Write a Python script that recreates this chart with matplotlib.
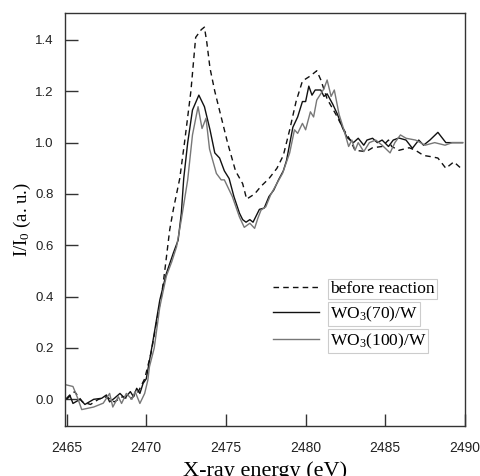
import matplotlib
matplotlib.use("Agg")
import matplotlib.pyplot as plt

plt.rcParams['mathtext.fontset'] = 'custom'
plt.rcParams['mathtext.rm'] = 'Liberation Serif'
plt.rcParams['mathtext.it'] = 'Liberation Serif:italic'

# before reaction (dashed)
before_x = [2465.0, 2465.5, 2466.0, 2466.5, 2467.0, 2467.5, 2468.0, 2468.5, 2469.0, 2469.5,
            2469.9, 2470.3, 2470.7, 2470.95, 2471.16, 2471.47, 2471.7, 2471.9, 2472.1, 2472.4,
            2472.8, 2473.1, 2473.45, 2473.65, 2473.8, 2474.0, 2474.3, 2474.7, 2475.1, 2475.6,
            2476.05, 2476.3, 2476.8, 2477.2, 2477.7, 2478.2, 2478.6, 2479.0, 2479.4, 2479.8,
            2480.3, 2480.7, 2480.95, 2481.35, 2481.9, 2482.4, 2482.8, 2483.1, 2483.8, 2484.2,
            2484.8, 2485.2, 2485.4, 2485.85, 2486.5, 2486.9, 2487.4, 2487.9, 2488.3, 2488.8,
            2489.3, 2489.75]
before_y = [0.0, 0.03, -0.01, -0.02, 0.0, 0.01, -0.01, 0.01, 0.0, 0.03,
            0.08, 0.18, 0.32, 0.40, 0.50, 0.66, 0.74, 0.80, 0.86, 1.0,
            1.20, 1.41, 1.44, 1.45, 1.39, 1.29, 1.20, 1.10, 1.0, 0.89,
            0.84, 0.78, 0.80, 0.83, 0.86, 0.90, 0.95, 1.05, 1.16, 1.24,
            1.26, 1.28, 1.245, 1.17, 1.11, 1.05, 1.01, 0.97, 0.965, 0.98,
            0.985, 1.01, 0.985, 0.97, 0.98, 0.97, 0.95, 0.945, 0.94, 0.90,
            0.925, 0.90]

# WO3(70)/W (black)
wo70_x = [2465.0, 2465.2, 2465.4, 2465.85, 2466.15, 2466.7, 2467.2, 2467.5, 2467.7, 2468.0,
          2468.35, 2468.65, 2469.0, 2469.2, 2469.4, 2469.6, 2469.8, 2470.0, 2470.4, 2470.85,
          2471.26, 2471.7, 2472.0, 2472.2, 2472.35, 2472.6, 2472.9, 2473.3, 2473.65, 2474.0,
          2474.3, 2474.6, 2474.9, 2475.2, 2475.5, 2475.85, 2476.05, 2476.26, 2476.5, 2476.7,
          2477.1, 2477.4, 2477.7, 2478.0, 2478.3, 2478.6, 2478.8, 2479.2, 2479.5, 2479.8,
          2480.0, 2480.2, 2480.4, 2480.6, 2480.95, 2481.15, 2481.35, 2481.7, 2482.0, 2482.3,
          2482.6, 2483.0, 2483.3, 2483.65, 2483.85, 2484.2, 2484.5, 2484.8, 2485.2, 2485.5,
          2485.85, 2486.3, 2486.7, 2487.1, 2487.4, 2487.8, 2488.3, 2488.8, 2489.3, 2489.85]
wo70_y = [0.004, 0.017, -0.016, 0.0, -0.02, 0.0, 0.004, 0.017, -0.01, 0.004,
          0.023, 0.004, 0.03, 0.01, 0.043, 0.023, 0.062, 0.08, 0.22, 0.387,
          0.49, 0.57, 0.62, 0.725, 0.86, 1.0, 1.127, 1.185, 1.14, 1.05,
          0.96, 0.94, 0.89, 0.86, 0.79, 0.725, 0.70, 0.69, 0.70, 0.69,
          0.74, 0.745, 0.79, 0.815, 0.855, 0.89, 0.93, 1.06, 1.10, 1.16,
          1.16, 1.22, 1.185, 1.205, 1.205, 1.18, 1.19, 1.15, 1.11, 1.06,
          1.02, 1.0, 1.017, 0.99, 1.01, 1.017, 1.0, 1.01, 0.985, 1.01,
          1.018, 1.01, 0.978, 1.01, 0.99, 1.01, 1.04, 1.0, 1.0, 1.0]

# WO3(100)/W (gray)
wo100_x = [2465.0, 2465.4, 2465.7, 2465.95, 2466.7, 2467.3, 2467.7, 2467.9, 2468.25, 2468.45,
           2468.75, 2469.1, 2469.3, 2469.6, 2469.9, 2470.1, 2470.2, 2470.5, 2470.85, 2471.26,
           2471.6, 2471.9, 2472.2, 2472.6, 2472.9, 2473.25, 2473.5, 2473.75, 2473.97, 2474.4,
           2474.7, 2474.9, 2475.4, 2475.85, 2476.15, 2476.5, 2476.8, 2477.0, 2477.2, 2477.5,
           2477.8, 2478.1, 2478.55, 2479.0, 2479.3, 2479.5, 2479.8, 2480.0, 2480.3, 2480.5,
           2480.7, 2480.95, 2481.15, 2481.35, 2481.6, 2481.8, 2482.1, 2482.4, 2482.7, 2482.9,
           2483.1, 2483.3, 2483.65, 2484.0, 2484.4, 2484.8, 2485.3, 2485.6, 2485.95, 2486.3,
           2486.9, 2487.5, 2488.1, 2488.75, 2489.2, 2489.85]
wo100_y = [0.056, 0.05, 0.004, -0.04, -0.03, -0.015, 0.023, -0.03, 0.01, -0.016,
           0.023, 0.0, 0.03, -0.016, 0.023, 0.075, 0.127, 0.2, 0.36, 0.48,
           0.536, 0.594, 0.70, 0.855, 1.03, 1.14, 1.055, 1.095, 0.975, 0.88,
           0.855, 0.855, 0.79, 0.71, 0.67, 0.686, 0.666, 0.705, 0.737, 0.75,
           0.796, 0.83, 0.88, 0.96, 1.05, 1.036, 1.075, 1.05, 1.12, 1.10,
           1.166, 1.19, 1.21, 1.244, 1.18, 1.205, 1.11, 1.05, 0.985, 1.01,
           0.97, 1.0, 0.965, 1.0, 1.01, 0.99, 0.96, 1.0, 1.03, 1.017,
           1.01, 0.99, 1.0, 0.99, 1.0, 1.0]

xticks = [2465, 2470, 2475, 2480, 2485, 2490]
yticks = [0.0, 0.2, 0.4, 0.6, 0.8, 1.0, 1.2, 1.4]

fig = plt.figure(figsize=(4.8, 4.76), dpi=100)
ax = fig.add_axes([0.1354, 0.105, 0.8333, 0.8677])

ax.plot(before_x, before_y, color='#111111', lw=1.0, ls=(0, (4, 3)), label='before reaction')
ax.plot(wo70_x, wo70_y, color='#111111', lw=1.0, label=r'WO$_\mathrm{3}$(70)/W')
ax.plot(wo100_x, wo100_y, color='#777777', lw=1.0, label=r'WO$_\mathrm{3}$(100)/W')

ax.set_xlim(2464.9, 2490.0)
ax.set_ylim(-0.104, 1.505)
ax.set_xticks(xticks)
ax.set_yticks(yticks)
ax.set_xticklabels([str(t) for t in xticks], family='Liberation Sans', fontsize=10)
ax.set_yticklabels(['%.1f' % t for t in yticks], family='Liberation Sans', fontsize=9.5)
ax.tick_params(direction='in', length=9, width=1.0, color='#333333', labelcolor='#222222')
ax.tick_params(axis='x', pad=11)
ax.tick_params(axis='y', pad=8)
for s in ax.spines.values():
    s.set_color('#333333')
    s.set_linewidth(1.0)

ax.set_xlabel('X-ray energy (eV)', family='Liberation Serif', fontsize=16, labelpad=4)
ax.set_ylabel(r'I/I$_\mathrm{0}$ (a. u.)', family='Liberation Serif', fontsize=13.5, labelpad=2)

leg = ax.legend(loc='upper left', bbox_to_anchor=(0.48, 0.39), frameon=False,
                prop={'family': 'Liberation Serif', 'size': 12.5},
                handlelength=2.65, handletextpad=0.65, labelspacing=0.45)
for t in leg.get_texts():
    t.set_bbox(dict(facecolor='white', edgecolor='#cccccc', linewidth=0.8, pad=1.5))

fig.savefig('out.png', dpi=100)
